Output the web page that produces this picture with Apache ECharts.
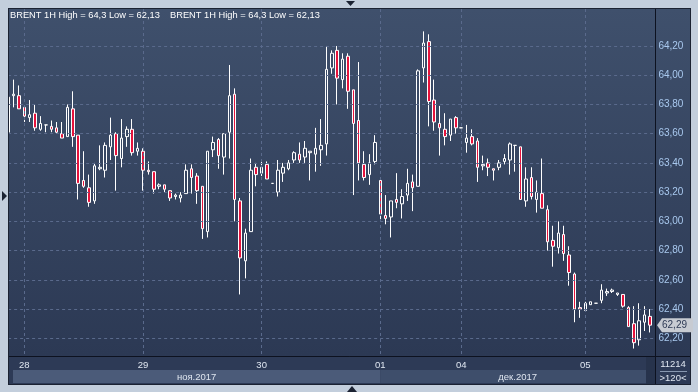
<!DOCTYPE html>
<html><head><meta charset="utf-8">
<script src="https://cdn.jsdelivr.net/npm/echarts@6/dist/echarts.min.js"></script>
<style>html,body{margin:0;padding:0;background:#c3cedc;}#c{width:698px;height:392px;}</style>
</head><body><div id="c"></div>
<script>
// ---- data (BRENT 1H, 120 bars) ----
const opens = [
63.61,63.86,63.86,63.78,63.71,63.74,63.63,63.66,63.65,63.64,
63.60,63.58,63.77,63.59,63.28,63.23,63.14,63.36,63.35,63.51,
63.60,63.43,63.58,63.63,63.48,63.48,63.35,63.34,63.24,63.25,
63.21,63.17,63.16,63.19,63.36,63.31,63.24,62.93,63.49,63.56,
63.44,63.61,63.87,63.14,62.73,62.93,63.37,63.33,63.39,63.26,
63.20,63.33,63.36,63.42,63.46,63.44,63.47,63.46,63.49,63.53,
64.05,64.17,63.97,64.13,63.90,63.69,63.39,63.32,63.41,63.28,
63.04,63.03,63.15,63.12,63.18,63.27,63.24,64.05,64.23,63.83,
63.67,63.63,63.59,63.71,63.64,63.54,63.58,63.55,63.38,63.40,
63.36,63.37,63.41,63.42,63.52,63.51,63.14,63.30,63.15,63.19,
63.08,62.87,62.82,62.91,62.77,62.64,62.41,62.39,62.43,62.44,
62.46,62.51,62.52,62.50,62.50,62.41,62.30,62.19,62.31,62.35];
const closes = [
63.85,63.87,63.77,63.72,63.73,63.64,63.67,63.66,63.63,63.61,
63.57,63.78,63.58,63.26,63.24,63.13,63.38,63.37,63.52,63.59,
63.45,63.57,63.63,63.47,63.50,63.35,63.34,63.22,63.25,63.22,
63.16,63.18,63.18,63.35,63.30,63.21,62.95,63.48,63.54,63.45,
63.60,63.86,63.15,62.75,62.92,63.35,63.32,63.37,63.29,63.26,
63.35,63.37,63.40,63.47,63.42,63.50,63.48,63.50,63.52,64.04,
64.15,63.98,64.11,63.89,63.67,63.40,63.30,63.40,63.54,63.05,
63.02,63.14,63.13,63.17,63.26,63.23,64.03,64.22,63.82,63.68,
63.64,63.58,63.70,63.64,63.64,63.57,63.53,63.37,63.39,63.37,
63.35,63.40,63.43,63.53,63.52,63.15,63.29,63.17,63.20,63.09,
62.86,62.83,62.92,62.78,62.65,62.40,62.40,62.44,62.45,62.44,
62.53,62.52,62.53,62.51,62.42,62.28,62.17,62.32,62.36,62.29];
const lows = [
63.59,63.78,63.77,63.68,63.68,63.62,63.62,63.61,63.61,63.60,
63.57,63.58,63.51,63.15,63.23,63.10,63.12,63.35,63.30,63.42,
63.21,63.37,63.51,63.45,63.45,63.21,63.32,63.19,63.22,63.20,
63.14,63.15,63.13,63.19,63.19,63.12,62.88,62.89,63.44,63.36,
63.32,63.43,63.00,62.50,62.61,62.93,63.24,63.31,63.29,63.26,
63.17,63.27,63.35,63.40,63.40,63.40,63.28,63.34,63.38,63.45,
64.01,63.80,63.91,63.77,63.18,63.28,63.28,63.25,63.39,63.00,
62.98,62.89,63.09,63.02,63.14,63.07,63.24,63.95,63.65,63.62,
63.45,63.52,63.55,63.60,63.64,63.47,63.52,63.27,63.35,63.31,
63.28,63.35,63.39,63.32,63.34,63.15,63.10,63.15,63.06,63.09,
62.80,62.69,62.78,62.73,62.56,62.31,62.34,62.39,62.43,62.44,
62.44,62.49,62.51,62.49,62.41,62.28,62.13,62.15,62.25,62.24];
const highs = [
63.87,63.97,63.93,63.78,63.83,63.80,63.72,63.66,63.69,63.68,
63.68,63.80,63.89,63.59,63.48,63.32,63.40,63.52,63.54,63.71,
63.61,63.70,63.65,63.70,63.54,63.50,63.41,63.34,63.26,63.25,
63.21,63.19,63.20,63.39,63.39,63.33,63.24,63.48,63.58,63.57,
63.60,64.07,63.91,63.16,62.95,63.43,63.40,63.42,63.41,63.26,
63.42,63.40,63.42,63.48,63.54,63.55,63.48,63.64,63.70,64.20,
64.17,64.20,64.15,64.15,63.90,64.09,63.48,63.46,63.59,63.28,
63.18,63.14,63.33,63.22,63.36,63.32,64.04,64.30,64.28,63.97,
63.79,63.74,63.70,63.72,63.64,63.66,63.63,63.57,63.45,63.43,
63.36,63.42,63.46,63.54,63.52,63.51,63.37,63.37,63.28,63.43,
63.11,62.97,63.00,62.97,62.83,62.65,62.45,62.45,62.45,62.44,
62.57,62.54,62.54,62.51,62.50,62.42,62.42,62.44,62.42,62.40];

const dayTickIndex = [3, 25, 47, 69, 84, 107];
const dayTickLabels = ['28', '29', '30', '01', '04', '05'];
const monthLabels = ['ноя.2017', 'дек.2017'];
const monthStartIndex = [0, 69];
const yTicks = [62.2, 62.4, 62.6, 62.8, 63.0, 63.2, 63.4, 63.6, 63.8, 64.0, 64.2];
const yMin = 62.079, yMax = 64.453;
const lastPrice = 62.29;
const headerText = 'BRENT 1H High = 64,3 Low = 62,13';
const volumeText = '11214';
const barsText = '>120<';

// ---- build ----
const categories = [];
for (let i = 0; i <= opens.length; i++) categories.push(String(i)); // one spare slot on the right
const ohlc = opens.map((o, i) => [o, closes[i], lows[i], highs[i]]);
const FONT = '"Liberation Sans", Arial, sans-serif';
const fmt = v => v.toFixed(2).replace('.', ',');

const chart = echarts.init(document.getElementById('c'), null, {renderer: 'canvas'});
const gridLine = {color: '#5a6a8c', type: [3, 3], width: 1};

chart.setOption({
  animation: false,
  backgroundColor: '#c3cedc',
  grid: {left: 8.12, right: 42.6, top: 9, bottom: 36, containLabel: false},
  xAxis: {
    type: 'category', data: categories, boundaryGap: false, z: 5,
    axisLine: {show: false}, axisTick: {show: false},
    axisLabel: {
      interval: (idx) => dayTickIndex.includes(idx),
      formatter: (v, idx) => { const k = dayTickIndex.indexOf(idx); return k >= 0 ? dayTickLabels[k] : ''; },
      color: '#dfe6f0', fontSize: 9.5, fontFamily: FONT, margin: 4
    },
    splitLine: {show: true, interval: (idx) => dayTickIndex.includes(idx), lineStyle: gridLine}
  },
  yAxis: {
    type: 'value', position: 'right', min: yMin, max: yMax, scale: true,
    axisLine: {show: false}, axisTick: {show: false}, splitLine: {show: false},
    axisLabel: {customValues: yTicks, formatter: fmt, color: '#a9c9ef', fontSize: 10, fontFamily: FONT, margin: 3}
  },
  series: [{
    type: 'candlestick', data: ohlc, barWidth: 3, clip: true,
    itemStyle: {color: 'rgba(0,0,0,0)', color0: '#e6133c', borderColor: '#ffffff', borderColor0: '#ffffff', borderWidth: 1},
    markLine: {
      silent: true, symbol: 'none', label: {show: false}, animation: false,
      lineStyle: gridLine, emphasis: {disabled: true},
      data: yTicks.map(v => ({yAxis: v}))
    },
    z: 3
  }]
});

function bgGrad(a, b) {
  return new echarts.graphic.LinearGradient(0, 0, 0, 1, [{offset: 0, color: a}, {offset: 1, color: b}]);
}
const xDec = chart.convertToPixel({xAxisIndex: 0}, monthStartIndex[1]);
const yLast = chart.convertToPixel({yAxisIndex: 0}, lastPrice);
const txt = (x, y, t, color, size, align) => ({type: 'text', x, y, z: 70,
  style: {text: t, fill: color, font: size + 'px ' + FONT, textAlign: align || 'left', textVerticalAlign: 'middle'}});

chart.setOption({graphic: [
  // plot + right panel background
  {type: 'rect', z: -20, shape: {x: 8, y: 8, width: 683, height: 377}, style: {fill: '#1b2232'}},
  {type: 'rect', z: -19, shape: {x: 9, y: 9, width: 681, height: 347}, style: {fill: bgGrad('#3f506c', '#2c3954')}},
  // bottom axis panel
  {type: 'rect', z: -18, shape: {x: 9, y: 357, width: 681, height: 27}, style: {fill: '#2d3a56'}},
  {type: 'rect', z: -17, shape: {x: 13, y: 370, width: xDec - 13, height: 13}, style: {fill: '#4b5b79'}},
  {type: 'rect', z: -17, shape: {x: xDec, y: 370, width: 646 - xDec, height: 13}, style: {fill: '#3e4e6b'}},
  {type: 'rect', z: -17, shape: {x: 646, y: 357, width: 9, height: 27}, style: {fill: '#27334c'}},
  {type: 'line', z: 45, shape: {x1: 9, y1: 356.5, x2: 690, y2: 356.5}, style: {stroke: '#0d1220', lineWidth: 1}},
  {type: 'line', z: 45, shape: {x1: 655.5, y1: 9, x2: 655.5, y2: 384}, style: {stroke: '#0d1220', lineWidth: 1}},
  txt((13 + xDec) / 2, 377, monthLabels[0], '#dfe6f0', 9.5, 'center'),
  txt((xDec + 655) / 2, 377, monthLabels[1], '#dfe6f0', 9.5, 'center'),
  // right bottom info
  txt(673, 364, volumeText, '#dfe6f0', 9.5, 'center'),
  {type: 'line', z: 45, shape: {x1: 660, y1: 371.5, x2: 687, y2: 371.5}, style: {stroke: '#8797b0', lineWidth: 1}},
  txt(673, 378, barsText, '#dfe6f0', 9.5, 'center'),
  // cover left edge (frame)
  {type: 'rect', z: 60, shape: {x: 0, y: 0, width: 8, height: 392}, style: {fill: '#c3cedc'}},
  {type: 'line', z: 61, shape: {x1: 8.5, y1: 8, x2: 8.5, y2: 384}, style: {stroke: '#1b2232', lineWidth: 1}},
  // header
  txt(10, 15, headerText, '#ffffff', 9.3),
  txt(170, 15, headerText, '#ffffff', 9.3),
  // last price tag
  {type: 'polygon', z: 55, shape: {points: [[657, yLast], [662, yLast - 7], [693, yLast - 7], [693, yLast + 7], [662, yLast + 7]]},
   style: {fill: '#c7cbd2'}},
  txt(662, yLast, fmt(lastPrice), '#2e3a55', 10),
  // UI markers
  {type: 'polygon', z: 60, shape: {points: [[346, 1], [355, 1], [350.5, 6]]}, style: {fill: '#1b2232'}},
  {type: 'polygon', z: 60, shape: {points: [[347, 392], [357, 392], [352, 386]]}, style: {fill: '#1b2232'}},
  {type: 'polygon', z: 62, shape: {points: [[2, 191], [2, 201], [7, 196]]}, style: {fill: '#1b2232'}}
]});
</script></body></html>
